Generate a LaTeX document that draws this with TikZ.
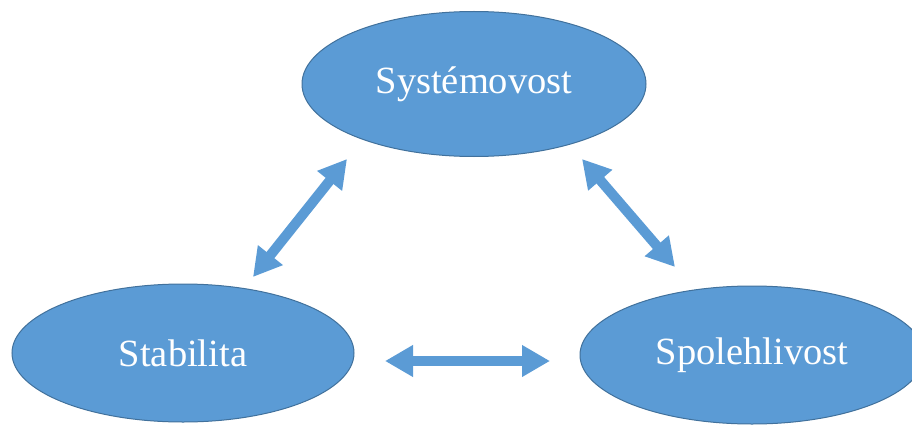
\documentclass[tikz,border=0pt]{standalone}
\usepackage{fontspec}
\setmainfont{Liberation Serif}
\usetikzlibrary{arrows.meta,shapes.geometric}
\definecolor{ovalblue}{RGB}{91,155,213}
\definecolor{ovalline}{RGB}{65,113,156}
\tikzset{
  oval/.style={ellipse, fill=ovalblue, draw=ovalline, line width=1pt,
    minimum width=344pt, minimum height=142pt, inner sep=0pt,
    text=white, font=\fontsize{38.5}{40}\selectfont},
  link/.style={{Triangle[width=30pt,length=28pt]}-{Triangle[width=30pt,length=28pt]},
    line width=10pt, ovalblue}
}
\begin{document}
\begin{tikzpicture}[x=1pt,y=1pt]
            \clip (0,0) rectangle (912,432);
            % ovals
            \node[oval, minimum height=145pt] (Sys) at (474,348) {Systémovost};
            \node[oval, minimum width=342pt, minimum height=138pt] (Stab) at (183,79) {Stabilita};
            \node[oval, minimum height=138pt] (Spol) at (752,77) {Spolehlivost};
            % define point
            \coordinate (A)  at (347,273);
            \coordinate (B)  at (253,155);
            \coordinate (C)  at (582,273);
            \coordinate (D)  at (675,165);
            \coordinate (E)  at (385,71);
            \coordinate (F)  at (550,71);
            % arrows
            \draw[link] (A) -- (B);
            \draw[link] (C) -- (D);
            \draw[link] (E) -- (F);
        \end{tikzpicture}
\end{document}
